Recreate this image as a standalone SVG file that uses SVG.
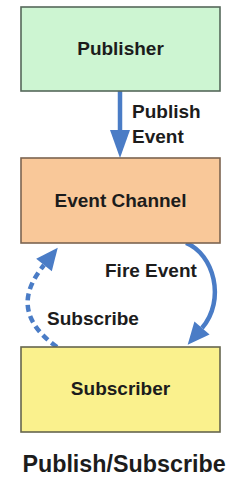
<svg xmlns="http://www.w3.org/2000/svg" width="239" height="479" viewBox="0 0 239 479">
  <style>
    text { font-family: "Liberation Sans", Arial, sans-serif; font-weight: bold; fill: #1c1c1c; }
    .node-label { font-size: 19px; text-anchor: middle; }
    .edge-label { font-size: 19px; }
    .title { font-size: 23.3px; text-anchor: middle; }
    .box { stroke-width: 1.6; }
    .conn { fill: none; stroke: #4a7cc6; stroke-width: 4.5; }
    .dashed { stroke-dasharray: 7 4.5; }
  </style>
  <defs>
    <marker id="headBig" markerUnits="userSpaceOnUse" markerWidth="30" markerHeight="22" refX="0" refY="11" orient="auto" overflow="visible">
      <path d="M0,1 L28,11 L0,21 z" fill="#4a7cc6"/>
    </marker>
    <marker id="head" markerUnits="userSpaceOnUse" markerWidth="24" markerHeight="22" refX="0" refY="11" orient="auto" overflow="visible">
      <path d="M0,1 L22,11 L0,21 z" fill="#4a7cc6"/>
    </marker>
  </defs>

  <g id="connectors">
    <path class="conn" d="M120,91 L120,130" marker-end="url(#headBig)"/>
    <path class="conn" d="M186,243 C214,254 226,300 202,328" marker-end="url(#head)"/>
    <path class="conn dashed" d="M57,347 C12,315 28,285 44,265" marker-end="url(#head)"/>
  </g>

  <g id="publisher">
    <rect class="box" x="21" y="7" width="199" height="84" fill="#cdf5d2" stroke="#56685a"/>
    <text class="node-label" x="120.5" y="55">Publisher</text>
  </g>

  <g id="event-channel">
    <rect class="box" x="21" y="158" width="199" height="85" fill="#f9c899" stroke="#7c6450"/>
    <text class="node-label" x="120.5" y="207">Event Channel</text>
  </g>

  <g id="subscriber">
    <rect class="box" x="21" y="347" width="199" height="85" fill="#faf18d" stroke="#66664e"/>
    <text class="node-label" x="120.5" y="395">Subscriber</text>
  </g>

  <g id="labels">
    <text class="edge-label" x="132" y="118">Publish</text>
    <text class="edge-label" x="132" y="143">Event</text>
    <text class="edge-label" x="105" y="277">Fire Event</text>
    <text class="edge-label" x="47" y="325">Subscribe</text>
    <text class="title" x="124" y="472">Publish/Subscribe</text>
  </g>
</svg>
